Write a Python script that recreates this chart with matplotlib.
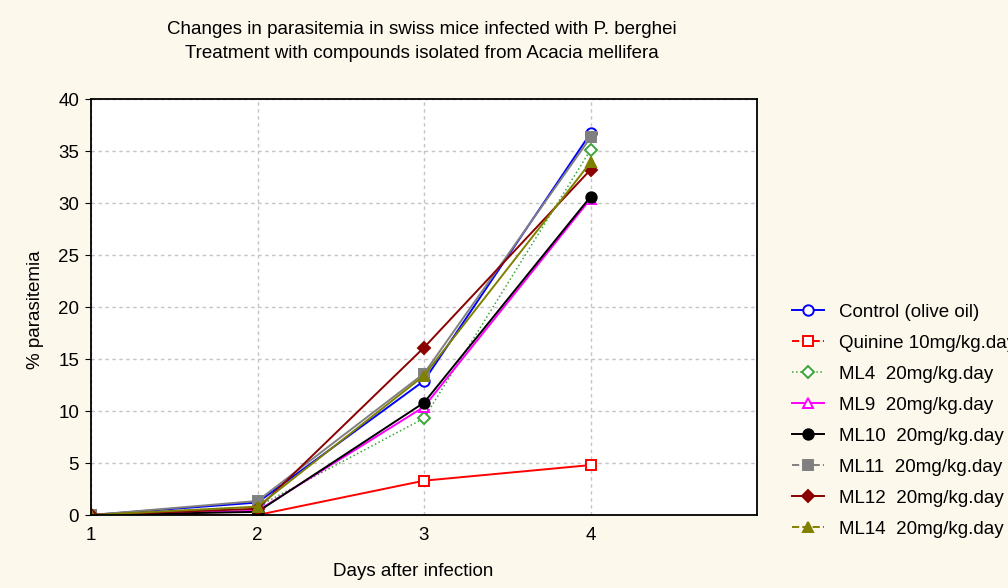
import matplotlib.pyplot as plt
from matplotlib.lines import Line2D

plt.rcParams['font.family'] = ['Liberation Sans', 'DejaVu Sans']

days = [1, 2, 3, 4]
control = [0, 1.2, 12.9, 36.7]
quinine = [0, 0.0, 3.3, 4.8]
ml4 = [0, 0.8, 9.3, 35.1]
ml9 = [0, 0.4, 10.4, 30.4]
ml10 = [0, 0.3, 10.8, 30.6]
ml11 = [0, 1.35, 13.6, 36.3]
ml12 = [0, 0.6, 16.1, 33.2]
ml14 = [0, 0.8, 13.4, 33.9]

labels = ["Control (olive oil)", "Quinine 10mg/kg.day", "ML4  20mg/kg.day",
          "ML9  20mg/kg.day", "ML10  20mg/kg.day", "ML11  20mg/kg.day",
          "ML12  20mg/kg.day", "ML14  20mg/kg.day"]

bg = '#fdf8ec'
fs = 13.5
fig = plt.figure(figsize=(10.08, 5.88), dpi=100, facecolor=bg)
ax = fig.add_axes([91 / 1008, 1 - 515 / 588, 666 / 1008, 416 / 588])

# values, colour, marker, face, line style in plot, line style in legend, width
series = [
    (control, 'blue', 'o', 'white', '-', '-', 1.4),
    (quinine, 'red', 's', 'white', '-', '--', 1.4),
    (ml4, '#3aa63a', 'D', 'white', ':', ':', 1.1),
    (ml9, 'magenta', '^', 'white', '-', '-', 1.4),
    (ml10, 'black', 'o', 'black', '-', '-', 1.4),
    (ml11, 'gray', 's', 'gray', '-', '--', 1.4),
    (ml12, '#8b0000', 'D', '#8b0000', '-', '-', 1.4),
    (ml14, '#808000', '^', '#808000', '-', '--', 1.4),
]

handles = []
for (vals, c, m, fc, ls, lls, lw), lab in zip(series, labels):
    ms = 6 if m == 'D' else 7.5
    ax.plot(days, vals, color=c, marker=m, markerfacecolor=fc, markeredgecolor=c,
            markeredgewidth=1.4, markersize=ms, linestyle=ls, linewidth=lw)
    handles.append(Line2D([], [], color=c, marker=m, markerfacecolor=fc,
                          markeredgecolor=c, markeredgewidth=1.4, markersize=ms,
                          linestyle=lls, linewidth=lw))

ax.set_xlim(1, 5)
ax.set_ylim(0, 40)
ax.set_xticks([1, 2, 3, 4])
ax.set_yticks(range(0, 41, 5))
ax.grid(True, linestyle=(0, (2.5, 2.5)), color='#c4c4c4', linewidth=1.0)
ax.tick_params(axis='y', direction='out', length=4, pad=4.5, labelsize=fs)
ax.tick_params(axis='x', direction='out', length=0, pad=9, labelsize=fs)
for s in ax.spines.values():
    s.set_linewidth(1.3)

fig.text(422 / 1008, 1 - 30 / 588, "Changes in parasitemia in swiss mice infected with P. berghei",
         ha='center', va='center', fontsize=fs)
fig.text(422 / 1008, 1 - 54 / 588, "Treatment with compounds isolated from Acacia mellifera",
         ha='center', va='center', fontsize=fs)
fig.text(413 / 1008, 1 - 572 / 588, "Days after infection", ha='center', va='center', fontsize=fs)
fig.text(35 / 1008, 1 - 310 / 588, "% parasitemia", ha='center', va='center',
         rotation=90, fontsize=fs)

fig.legend(handles, labels, loc='upper left', bbox_to_anchor=(788 / 1008, 1 - 300 / 588),
           frameon=False, fontsize=fs, handlelength=1.7, labelspacing=0.74,
           handletextpad=0.8, borderaxespad=0, borderpad=0.2)

fig.savefig('out.png', dpi=100, facecolor=bg)
